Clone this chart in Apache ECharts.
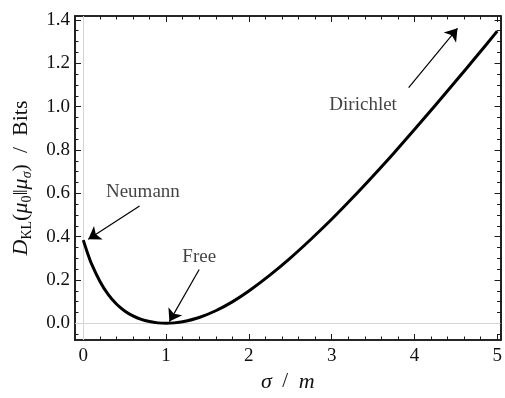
<!DOCTYPE html>
<html>
<head>
<meta charset="utf-8">
<script src="https://cdn.jsdelivr.net/npm/echarts@6/dist/echarts.min.js"></script>
<style>html,body{margin:0;padding:0;background:#fff}#c{width:505px;height:398px}</style>
</head>
<body>
<div id="c"></div>
<script>
// Data
var sigma = [0, 0.05, 0.1, 0.2, 0.3, 0.4, 0.5, 0.6, 0.7, 0.8, 0.9, 1.0, 1.1, 1.2, 1.4, 1.6, 1.8, 2.0, 2.25, 2.5, 2.75, 3.0, 3.25, 3.5, 3.75, 4.0, 4.25, 4.5, 4.75, 5.0];
var dkl   = [0.384, 0.326, 0.274, 0.194, 0.133, 0.089, 0.057, 0.034, 0.018, 0.008, 0.002, 0.0, 0.002, 0.007, 0.027, 0.058, 0.099, 0.149, 0.221, 0.301, 0.388, 0.480, 0.578, 0.680, 0.785, 0.894, 1.005, 1.118, 1.232, 1.348];
var xTicks = [0, 1, 2, 3, 4, 5];
var yTicks = [0.0, 0.2, 0.4, 0.6, 0.8, 1.0, 1.2, 1.4];
var labelNames = ['Neumann', 'Free', 'Dirichlet'];
var labelAnchors = [[0.72, 0.605], [1.40, 0.305], [3.38, 1.007]];
var arrowFrom = [[0.68, 0.541], [1.40, 0.248], [3.93, 1.087]];
var arrowTo   = [[0.06, 0.388], [1.04, 0.008], [4.52, 1.361]];

var xMin = -0.1, xMax = 5.04, yMin = -0.077, yMax = 1.418;
var xMinor = [], yMinor = [];
for (var i = 0; i <= 25; i++) { var v = +(i * 0.2).toFixed(2); if (xTicks.indexOf(v) < 0) xMinor.push(v); }
for (var j = -1; j <= 28; j++) { var w = +(j * 0.05).toFixed(2); if (Math.abs(w * 5 - Math.round(w * 5)) > 1e-6) yMinor.push(w); }

var FONT = '"Liberation Serif", "DejaVu Serif", serif';
var frameColor = '#1a1a1a';
var TXT = '#111';

function xa(pos, custom, len, labels) {
  return {
    type: 'value', position: pos, min: xMin, max: xMax,
    axisLine: { show: true, onZero: false, lineStyle: { color: frameColor, width: 1.6 } },
    axisTick: { show: true, inside: true, length: len, customValues: custom, lineStyle: { color: frameColor, width: 1 } },
    axisLabel: labels ? { show: true, customValues: custom, fontFamily: FONT, fontSize: 19, color: TXT, margin: 7 } : { show: false },
    splitLine: { show: false }
  };
}
function ya(pos, custom, len, labels) {
  return {
    type: 'value', position: pos, min: yMin, max: yMax,
    axisLine: { show: true, onZero: false, lineStyle: { color: frameColor, width: 1.6 } },
    axisTick: { show: true, inside: true, length: len, customValues: custom, lineStyle: { color: frameColor, width: 1 } },
    axisLabel: labels ? { show: true, customValues: custom, fontFamily: FONT, fontSize: 19, color: TXT, margin: 5,
      formatter: function (v) { return v.toFixed(1); } } : { show: false },
    splitLine: { show: false }
  };
}

var xAxes = [xa('bottom', xTicks, 6, true), xa('bottom', xMinor, 3.5, false), xa('top', xTicks, 6, false), xa('top', xMinor, 3.5, false)];
var yAxes = [ya('left', yTicks, 6, true), ya('left', yMinor, 3.5, false), ya('right', yTicks, 6, false), ya('right', yMinor, 3.5, false)];

xAxes[0].name = '{i|σ}{n|  /  }{i|m}';
xAxes[0].nameLocation = 'middle';
xAxes[0].nameGap = 21;
xAxes[0].nameTextStyle = { fontFamily: FONT, fontSize: 21, color: TXT,
  rich: { i: { fontFamily: FONT, fontStyle: 'italic', fontSize: 22, color: TXT }, n: { fontFamily: FONT, fontSize: 21, color: TXT } } };

yAxes[0].name = '{i|D}{s|KL}{n|(}{i|μ}{s|0}{n|‖}{i|μ}{si|σ}{n|)  /  Bits}';
yAxes[0].nameLocation = 'middle';
yAxes[0].nameGap = 40;
yAxes[0].nameTextStyle = { fontFamily: FONT, fontSize: 21, color: TXT,
  rich: {
    i: { fontFamily: FONT, fontStyle: 'italic', fontSize: 22, color: TXT, lineHeight: 28, verticalAlign: 'middle' },
    n: { fontFamily: FONT, fontSize: 22, color: TXT, lineHeight: 28, verticalAlign: 'middle' },
    s: { fontFamily: FONT, fontSize: 14, color: TXT, lineHeight: 28, verticalAlign: 'bottom', padding: [0, 0, 1, 0] },
    si: { fontFamily: FONT, fontStyle: 'italic', fontSize: 14, color: TXT, lineHeight: 28, verticalAlign: 'bottom', padding: [0, 0, 1, 0] }
  } };

var curve = sigma.map(function (s, k) { return [s, dkl[k]]; });
var arrows = arrowFrom.map(function (f, k) { return { coords: [f, arrowTo[k]] }; });
var labels = labelNames.map(function (n, k) { return { value: labelAnchors[k], name: n }; });

var chart = echarts.init(document.getElementById('c'), null, { renderer: 'canvas' });
chart.setOption({
  animation: false,
  backgroundColor: '#fff',
  grid: { left: 75, right: 2, top: 16, bottom: 58, containLabel: false },
  xAxis: xAxes,
  yAxis: yAxes,
  series: [
    {
      type: 'line', xAxisIndex: 0, yAxisIndex: 0, data: curve, showSymbol: false, smooth: 0.3,
      lineStyle: { color: '#000', width: 3 }, z: 5,
      markLine: {
        silent: true, symbol: ['none', 'none'], label: { show: false },
        lineStyle: { color: '#d4d4d4', width: 1, type: 'solid' },
        data: [{ xAxis: 0 }, { yAxis: 0 }], z: 1
      }
    },
    {
      type: 'lines', coordinateSystem: 'cartesian2d', xAxisIndex: 0, yAxisIndex: 0,
      symbol: ['none', 'arrow'], symbolSize: [0, 12],
      lineStyle: { color: '#000', width: 1.2, opacity: 1 },
      data: arrows, z: 6
    },
    {
      type: 'scatter', xAxisIndex: 0, yAxisIndex: 0, symbolSize: 0, data: labels,
      label: { show: true, position: 'inside', formatter: '{b}', fontFamily: FONT, fontSize: 19, color: TXT },
      z: 6
    }
  ]
});
</script>
</body>
</html>
